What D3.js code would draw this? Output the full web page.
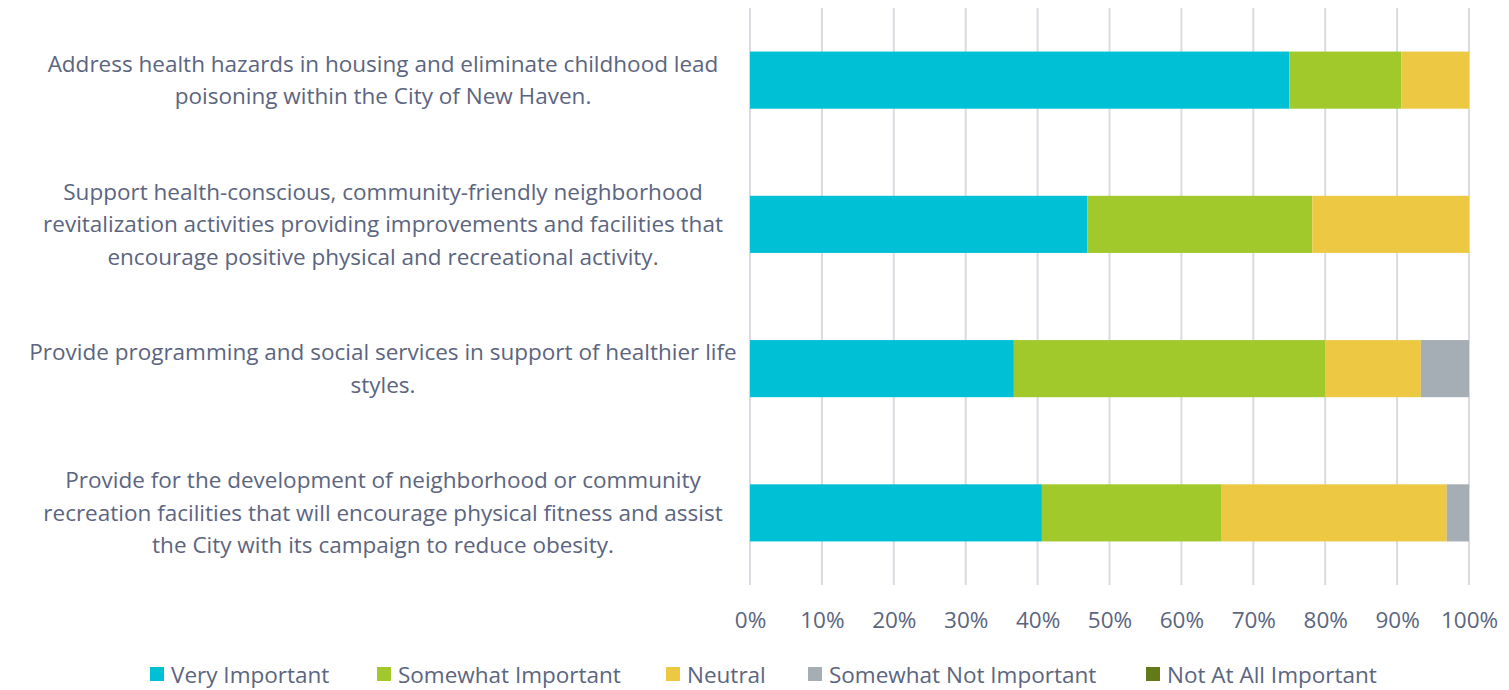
<!DOCTYPE html>
<html>
<head>
<meta charset="utf-8">
<script src="https://cdn.jsdelivr.net/npm/d3@7"></script>
<style>
  html, body { margin: 0; padding: 0; background: #fff; }
  svg text { font-family: "Open Sans", "Noto Sans", sans-serif; fill: #5b6580; }
</style>
</head>
<body>
<svg id="chart" width="1509" height="690"></svg>
<script>
// Survey priorities: share of responses by importance level (percent)
const categories = [
  ["Address health hazards in housing and eliminate childhood lead",
   "poisoning within the City of New Haven."],
  ["Support health-conscious, community-friendly neighborhood",
   "revitalization activities providing improvements and facilities that",
   "encourage positive physical and recreational activity."],
  ["Provide programming and social services in support of healthier life",
   "styles."],
  ["Provide for the development of neighborhood or community",
   "recreation facilities that will encourage physical fitness and assist",
   "the City with its campaign to reduce obesity."]
];
const seriesNames = ["Very Important", "Somewhat Important", "Neutral",
                     "Somewhat Not Important", "Not At All Important"];
const veryImportant        = [75.0, 46.9, 36.7, 40.6];
const somewhatImportant    = [15.6, 31.3, 43.3, 25.0];
const neutral              = [9.4, 21.8, 13.3, 31.3];
const somewhatNotImportant = [0, 0, 6.7, 3.1];
const notAtAllImportant    = [0, 0, 0, 0];
const tickValues = [0, 10, 20, 30, 40, 50, 60, 70, 80, 90, 100];
const colors = ["#00c0d6", "#a1c92b", "#ecc843", "#a5adb5", "#627a17"];

const seriesValues = [veryImportant, somewhatImportant, neutral,
                      somewhatNotImportant, notAtAllImportant];
const rows = categories.map((c, i) => {
  const r = { idx: i };
  seriesNames.forEach((s, k) => { r[s] = seriesValues[k][i]; });
  return r;
});

const svg = d3.select("#chart");
const x = d3.scaleLinear().domain([0, 100]).range([750, 1469]);
const y = d3.scaleBand().domain(d3.range(categories.length)).range([8, 585]).paddingInner(0.604).paddingOuter(0.302);

// vertical gridlines
svg.append("g").selectAll("line").data(tickValues).join("line")
  .attr("x1", d => x(d)).attr("x2", d => x(d))
  .attr("y1", 8).attr("y2", 585)
  .attr("stroke", "#d9dbe1").attr("stroke-width", 2);

// stacked bars
const stacked = d3.stack().keys(seriesNames)(rows);
svg.append("g").selectAll("g").data(stacked).join("g")
  .attr("fill", (d, i) => colors[i])
  .selectAll("rect").data(d => d).join("rect")
  .attr("x", d => x(d[0]))
  .attr("width", d => Math.max(0, x(d[1]) - x(d[0])))
  .attr("y", d => y(d.data.idx))
  .attr("height", y.bandwidth());

// x axis tick labels
const xAxis = d3.axisBottom(x).tickValues(tickValues).tickFormat(d => d + "%").tickSize(0).tickPadding(0);
const ax = svg.append("g").attr("transform", "translate(0,628)").call(xAxis);
ax.select(".domain").remove();
ax.selectAll("text").attr("font-size", 22.5).attr("dy", 0)
  .style("font-family", "'Open Sans', 'Noto Sans', sans-serif").attr("fill", "#5b6580");

// category labels
const lineH = 32.5;
categories.forEach((lines, i) => {
  const cy = y(i) + y.bandwidth() / 2;
  const t = svg.append("text").attr("text-anchor", "middle").attr("font-size", 22.5);
  lines.forEach((ln, j) => {
    t.append("tspan").attr("x", 383)
      .attr("y", cy + (j - (lines.length - 1) / 2) * lineH + 8)
      .text(ln);
  });
});

// legend
const legendX = [150, 377, 666, 808, 1146];
const lg = svg.append("g").selectAll("g").data(seriesNames).join("g")
  .attr("transform", (d, i) => `translate(${legendX[i]},668)`);
lg.append("rect").attr("x", 0).attr("y", -1).attr("width", 14).attr("height", 14)
  .attr("fill", (d, i) => colors[i]);
lg.append("text").attr("x", 21).attr("y", 15).attr("font-size", 22.5).text(d => d);
</script>
</body>
</html>
